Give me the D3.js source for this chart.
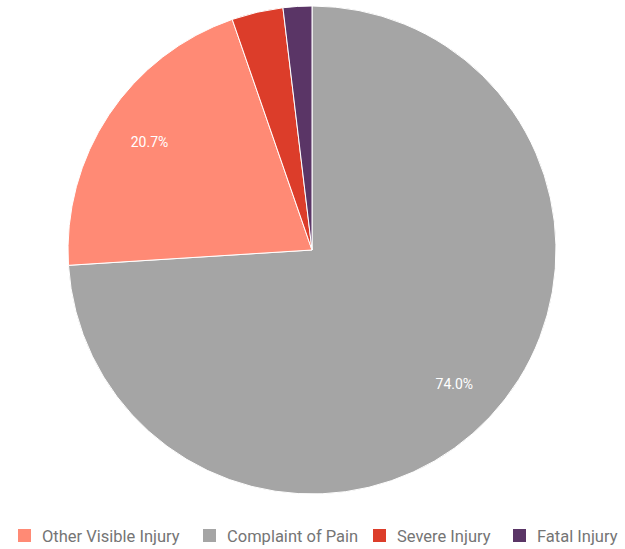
<!DOCTYPE html>
<html>
<head>
<meta charset="utf-8">
<script src="https://cdn.jsdelivr.net/npm/d3@7"></script>
<style>
  body { margin: 0; background: #fff; }
  text { font-family: Roboto, "Noto Sans", sans-serif; }
</style>
</head>
<body>
<svg id="chart"></svg>
<script>
const width = 625;
const height = 549;

// slices in drawing order, clockwise from 12 o'clock
const sliceNames = ["Complaint of Pain", "Other Visible Injury", "Severe Injury", "Fatal Injury"];
const sliceValues = [74.0, 20.7, 3.4, 1.9];
const sliceColors = ["#a5a5a5", "#ff8a75", "#dc3d2a", "#5a3566"];

// legend order as shown under the chart
const legendNames = ["Other Visible Injury", "Complaint of Pain", "Severe Injury", "Fatal Injury"];

const cx = 312, cy = 250, radius = 244;

const color = d3.scaleOrdinal().domain(sliceNames).range(sliceColors);

const svg = d3.select('#chart')
  .attr('width', width)
  .attr('height', height);

const data = sliceNames.map((name, i) => ({ name: name, value: sliceValues[i] }));

const pie = d3.pie()
  .sort(null)
  .value(d => d.value);

const arc = d3.arc()
  .innerRadius(0)
  .outerRadius(radius);

const labelArc = d3.arc()
  .innerRadius(radius * 0.8)
  .outerRadius(radius * 0.8);

const g = svg.append('g')
  .attr('transform', `translate(${cx}, ${cy})`);

const arcs = pie(data);

g.selectAll('path')
  .data(arcs)
  .enter().append('path')
  .attr('d', arc)
  .attr('fill', d => color(d.data.name))
  .attr('stroke', '#fff')
  .attr('stroke-width', 1);

// only the large slices get a percentage label
g.selectAll('text')
  .data(arcs.filter(d => d.data.value > 10))
  .enter().append('text')
  .attr('transform', d => `translate(${labelArc.centroid(d)})`)
  .attr('text-anchor', 'middle')
  .attr('dy', '0.35em')
  .attr('fill', '#fff')
  .attr('font-size', '14px')
  .text(d => d.data.value.toFixed(1) + '%');

// LEGEND
const legendX = [18, 203, 373, 513];
const legend = svg.append('g')
  .attr('transform', 'translate(0, 536)');

const legendItem = legend.selectAll('g')
  .data(legendNames)
  .enter().append('g')
  .attr('transform', (d, i) => `translate(${legendX[i]}, 0)`);

legendItem.append('rect')
  .attr('x', 0)
  .attr('y', -7)
  .attr('width', 13)
  .attr('height', 13)
  .attr('fill', d => color(d));

legendItem.append('text')
  .attr('x', 24)
  .attr('dy', '0.35em')
  .attr('font-size', '16.5px')
  .attr('fill', '#757575')
  .text(d => d);
</script>
</body>
</html>
